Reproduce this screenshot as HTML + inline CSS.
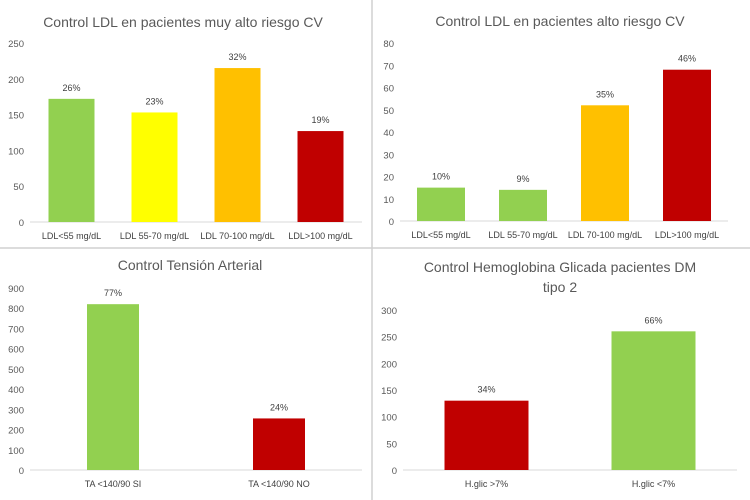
<!DOCTYPE html>
<html><head><meta charset="utf-8"><style>
body{margin:0;background:#fff;}
svg{display:block;font-family:"Liberation Sans",sans-serif;}
</style></head><body>
<svg id="c" width="750" height="500"></svg>
<script>
const p1Cats=["LDL<55 mg/dL","LDL 55-70 mg/dL","LDL 70-100 mg/dL","LDL>100 mg/dL"];
const p1Vals=[172,153,215,127];
const p1Pct=["26%","23%","32%","19%"];
const p1Ticks=[0,50,100,150,200,250];
const p2Cats=["LDL<55 mg/dL","LDL 55-70 mg/dL","LDL 70-100 mg/dL","LDL>100 mg/dL"];
const p2Vals=[15,14,52,68];
const p2Pct=["10%","9%","35%","46%"];
const p2Ticks=[0,10,20,30,40,50,60,70,80];
const p3Cats=["TA <140/90 SI","TA <140/90 NO"];
const p3Vals=[820,255];
const p3Pct=["77%","24%"];
const p3Ticks=[0,100,200,300,400,500,600,700,800,900];
const p4Cats=["H.glic >7%","H.glic <7%"];
const p4Vals=[130,260];
const p4Pct=["34%","66%"];
const p4Ticks=[0,50,100,150,200,250,300];
const G="#92d050",Y="#ffff00",O="#ffc000",R="#c00000";
const svg=document.getElementById('c');
const NS="http://www.w3.org/2000/svg";
function mk(t,a,parent){const e=document.createElementNS(NS,t);for(const k in a)e.setAttribute(k,a[k]);(parent||svg).appendChild(e);return e;}
let b=mk('line',{x1:372,y1:0,x2:372,y2:500,stroke:"#d0d0d0","stroke-width":1.5});


b=mk('line',{x1:0,y1:248,x2:750,y2:248,stroke:"#d0d0d0","stroke-width":1.5});


function chart(o){
  const g=mk('g',{});
  
  
  const max=o.ticks[o.ticks.length-1];
  const y=v=>o.y0-(v/max)*(o.y0-o.yTop);
  o.title.forEach((t,i)=>{const e=mk('text',{x:o.tx,y:o.ty+i*20,"text-anchor":"middle","font-size":14,fill:"#595959"},g);e.textContent=t;
    
    });
  o.ticks.forEach(t=>{const e=mk('text',{x:o.xl-6,y:y(t)+4,"text-anchor":"end","font-size":9.5,fill:"#595959"},g);e.textContent=t;
    
    });
  const ax=mk('line',{x1:o.xl,y1:o.y0,x2:o.xr,y2:o.y0,stroke:"#d9d9d9","stroke-width":1},g);
  
  
  const n=o.cats.length,cw=(o.xr-o.xl)/n;
  o.cats.forEach((c,i)=>{
    const cx=o.xl+cw*(i+0.5);
    const r=mk('rect',{x:cx-o.bw/2,y:y(o.vals[i]),width:o.bw,height:o.y0-y(o.vals[i]),fill:o.colors[i]},g);
    
    
    const l=mk('text',{x:cx,y:y(o.vals[i])-8,"text-anchor":"middle","font-size":9,fill:"#404040"},g);l.textContent=o.pct[i];
    
    
    const xl=mk('text',{x:cx,y:o.y0+17,"text-anchor":"middle","font-size":9,fill:"#404040"},g);xl.textContent=c;
    
    
  });
}
chart({name:'chart-ldl-muy-alto',title:["Control LDL en pacientes muy alto riesgo CV"],tx:183,ty:27,cats:p1Cats,vals:p1Vals,pct:p1Pct,ticks:p1Ticks,colors:[G,Y,O,R],xl:30,xr:362,y0:222,yTop:43,bw:46});
chart({name:'chart-ldl-alto',title:["Control LDL en pacientes alto riesgo CV"],tx:560,ty:26,cats:p2Cats,vals:p2Vals,pct:p2Pct,ticks:p2Ticks,colors:[G,G,O,R],xl:400,xr:728,y0:221,yTop:43,bw:48});
chart({name:'chart-tension-arterial',title:["Control Tensión Arterial"],tx:190,ty:270,cats:p3Cats,vals:p3Vals,pct:p3Pct,ticks:p3Ticks,colors:[G,R],xl:30,xr:362,y0:470,yTop:288,bw:52});
chart({name:'chart-hemoglobina',title:["Control Hemoglobina Glicada pacientes DM","tipo 2"],tx:560,ty:272,cats:p4Cats,vals:p4Vals,pct:p4Pct,ticks:p4Ticks,colors:[R,G],xl:403,xr:737,y0:470,yTop:310,bw:84});
</script>
</body></html>
